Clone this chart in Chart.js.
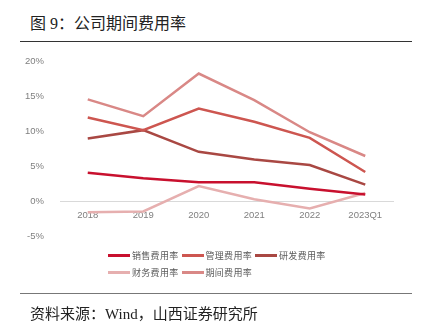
<!DOCTYPE html>
<html>
<head>
<meta charset="utf-8">
<script src="https://cdn.jsdelivr.net/npm/chart.js@4"></script>
<style>
  html, body { margin: 0; padding: 0; background: #fff; }
  body { width: 421px; height: 325px; position: relative; overflow: hidden; }
  .title {
    position: absolute; left: 30px; top: 10px;
    font: 16px "Liberation Serif", "Noto Sans CJK SC", serif; color: #222;
  }
  .rule { position: absolute; left: 20px; width: 392px; height: 1px; }
  #top-rule { top: 41px; background: #333; }
  #bottom-rule { top: 293px; background: #777; }
  #wrap { position: absolute; left: 0; top: 48px; width: 421px; height: 202px; }
  #legend {
    position: absolute; left: 108px; top: 247px; width: 300px;
    font: 9px "Noto Sans CJK SC", sans-serif; color: #595959; letter-spacing: 0.3px;
  }
  #legend .row { height: 17px; display: flex; align-items: center; }
  #legend .item { display: flex; align-items: center; margin-right: 3px; }
  #legend .swatch { width: 22px; height: 3px; margin-right: 2px; }
  .source {
    position: absolute; left: 30px; top: 302px;
    font: 15px "Liberation Serif", "Noto Sans CJK SC", serif; color: #222;
  }
</style>
</head>
<body>
<div class="title">图 9：公司期间费用率</div>
<div class="rule" id="top-rule"></div>
<div id="wrap"><canvas id="chart"></canvas></div>
<div id="legend"></div>
<div class="rule" id="bottom-rule"></div>
<div class="source">资料来源：Wind，山西证券研究所</div>

<script>
const periods = ["2018", "2019", "2020", "2021", "2022", "2023Q1"];

// expense ratios, %
const salesRate   = [4.1, 3.3, 2.75, 2.75, 1.8, 1.0];
const adminRate   = [12.0, 10.2, 13.3, 11.4, 9.1, 4.2];
const rdRate      = [9.0, 10.2, 7.1, 6.0, 5.2, 2.4];
const financeRate = [-1.55, -1.45, 2.2, 0.3, -1.0, 1.2];
const periodRate  = [14.6, 12.2, 18.3, 14.5, 9.9, 6.5];

const seriesNames  = ["销售费用率", "管理费用率", "研发费用率", "财务费用率", "期间费用率"];
const seriesColors = ["#C8102E", "#CD5650", "#A94843", "#E6AFAF", "#D98886"];
const seriesData   = [salesRate, adminRate, rdRate, financeRate, periodRate];

const datasets = seriesNames.map((name, i) => ({
  label: name,
  data: seriesData[i],
  borderColor: seriesColors[i],
  backgroundColor: seriesColors[i],
  borderWidth: 2.5,
  pointRadius: 0,
  tension: 0,
  fill: false
}));

const chart = new Chart(document.getElementById("chart"), {
  type: "line",
  data: { labels: periods, datasets: datasets },
  options: {
    responsive: true,
    maintainAspectRatio: false,
    animation: false,
    layout: { padding: { left: 18, right: 28, top: 9, bottom: 6 } },
    plugins: { legend: { display: false }, tooltip: { enabled: false } },
    scales: {
      x: {
        position: { y: 0 },
        offset: true,
        grid: { display: false },
        border: { display: true, color: "#d9d9d9", width: 1 },
        ticks: {
          padding: 0,
          color: "#7f7f7f",
          font: { family: "Liberation Sans", size: 9.5 }
        }
      },
      y: {
        min: -5,
        max: 20,
        grid: { display: false },
        border: { display: false },
        afterFit: scale => { scale.width = 42; },
        ticks: {
          stepSize: 5,
          padding: 8,
          color: "#7f7f7f",
          font: { family: "Liberation Sans", size: 9.5 },
          callback: v => v + "%"
        }
      }
    }
  }
});

// legend: three items on the first row, two on the second
const legend = document.getElementById("legend");
[[0, 1, 2], [3, 4]].forEach(group => {
  const row = document.createElement("div");
  row.className = "row";
  group.forEach(i => {
    const item = document.createElement("div");
    item.className = "item";
    const sw = document.createElement("span");
    sw.className = "swatch";
    sw.style.background = chart.data.datasets[i].borderColor;
    const txt = document.createElement("span");
    txt.textContent = chart.data.datasets[i].label;
    item.appendChild(sw);
    item.appendChild(txt);
    row.appendChild(item);
  });
  legend.appendChild(row);
});
</script>
</body>
</html>
